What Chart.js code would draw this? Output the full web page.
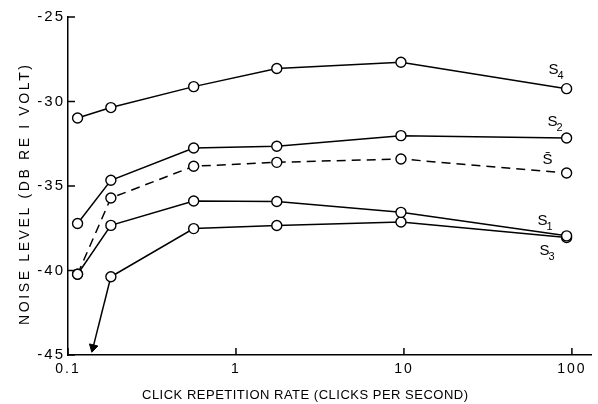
<!DOCTYPE html>
<html><head><meta charset="utf-8">
<script src="https://cdn.jsdelivr.net/npm/chart.js@4/dist/chart.umd.min.js"></script>
<style>html,body{margin:0;padding:0;background:#fff;}#wrap{width:598px;height:404px;position:relative;}</style>
</head><body><div id="wrap"><canvas id="c" width="598" height="404"></canvas></div>
<script>
// ---- data ----
const rates = [0.114, 0.18, 0.56, 1.75, 9.6, 93];
const s4 = [-30.98, -30.36, -29.12, -28.05, -27.68, -29.24];
const s2 = [-37.22, -34.66, -32.75, -32.65, -32.02, -32.16];
const sMean = [-40.22, -35.71, -33.83, -33.60, -33.40, -34.23];
const s1 = [-40.22, -37.33, -35.89, -35.92, -36.56, -37.95];
const s3 = [null, -40.37, -37.52, -37.34, -37.13, -38.05];
const s3ArrowX = [0.18, 0.141];
const s3ArrowY = [-40.37, -44.55];
const xTicks = [0.1, 1, 10, 100];
const xTickLabels = ['0.1', '1', '10', '100'];
const yTicks = [-25, -30, -35, -40, -45];
const yTickLabels = ['-25', '-30', '-35', '-40', '-45'];
const labelBase = ['S', 'S', 'S\u0304', 'S', 'S'];
const labelSub = ['4', '2', '', '1', '3'];
const xTitle = 'CLICK REPETITION RATE (CLICKS PER SECOND)';
const yTitle = 'NOISE LEVEL (DB RE I VOLT)';

function pts(xs, ys) { return xs.map((x, i) => ({ x: x, y: ys[i] })).filter(p => p.y !== null); }

const FONT = '"Liberation Sans", Arial, sans-serif';
const lineDs = (data, dash) => ({
  data: data, borderColor: '#000', borderWidth: 1.5, borderDash: dash || [],
  pointRadius: 5, pointBorderWidth: 1.4, pointBackgroundColor: '#fff', pointBorderColor: '#000',
  tension: 0, fill: false
});

const datasets = [
  lineDs(pts(rates, s4)),
  lineDs(pts(rates, s2)),
  lineDs(pts(rates, sMean), [9, 6]),
  lineDs(pts(rates, s1)),
  lineDs(pts(rates, s3)),
  {
    data: pts(s3ArrowX, s3ArrowY), borderColor: '#000', borderWidth: 1.5, tension: 0,
    pointRadius: [0, 5], pointStyle: 'triangle', pointRotation: 194,
    pointBackgroundColor: '#000', pointBorderColor: '#000', pointBorderWidth: 1
  }
];

// offsets of series name labels relative to each series' last point (pixels)
const labelOffsets = [[-13, -19], [-14, -16], [-19, -13], [-24, -15], [-22, 13]];

function drawSpaced(ctx, text, cx, cy, target, font) {
  ctx.font = font;
  ctx.letterSpacing = '0px';
  const w = ctx.measureText(text).width;
  const sp = (target - w) / (text.length - 1);
  ctx.letterSpacing = sp.toFixed(2) + 'px';
  ctx.textAlign = 'left';
  ctx.textBaseline = 'middle';
  ctx.fillText(text, cx - target / 2, cy);
  ctx.letterSpacing = '0px';
}

const decor = {
  id: 'decor',
  beforeDraw(chart) { chart.ctx.letterSpacing = '2px'; },
  afterDraw(chart) {
    const ctx = chart.ctx;
    const xs = chart.scales.x, ys = chart.scales.y;
    ctx.save();
    ctx.letterSpacing = '0px';
    ctx.strokeStyle = '#000';
    ctx.lineWidth = 1.5;
    // inward tick marks
    yTicks.forEach(v => {
      const py = ys.getPixelForValue(v);
      ctx.beginPath(); ctx.moveTo(xs.left, py); ctx.lineTo(xs.left + 7, py); ctx.stroke();
    });
    xTicks.forEach(v => {
      const px = xs.getPixelForValue(v);
      ctx.beginPath(); ctx.moveTo(px, ys.bottom); ctx.lineTo(px, ys.bottom - 7); ctx.stroke();
    });
    // series names
    ctx.fillStyle = '#000';
    for (let i = 0; i < 5; i++) {
      const meta = chart.getDatasetMeta(i);
      const last = meta.data[meta.data.length - 1];
      const lx = last.x + labelOffsets[i][0], ly = last.y + labelOffsets[i][1];
      ctx.font = '15px ' + FONT;
      ctx.textAlign = 'center'; ctx.textBaseline = 'middle';
      ctx.fillText(labelBase[i], lx, ly);
      if (labelSub[i]) {
        ctx.font = '11px ' + FONT;
        ctx.textAlign = 'left';
        ctx.fillText(labelSub[i], lx + 4, ly + 6);
      }
    }
    // axis titles
    drawSpaced(ctx, xTitle, 305, 395, 326, '13px ' + FONT);
    ctx.save();
    ctx.translate(25, 195);
    ctx.rotate(-Math.PI / 2);
    drawSpaced(ctx, yTitle, 0, 0, 260, '14px ' + FONT);
    ctx.restore();
    ctx.restore();
  }
};

new Chart(document.getElementById('c'), {
  type: 'line',
  data: { datasets: datasets },
  options: {
    responsive: false, animation: false, devicePixelRatio: 1,
    layout: { padding: { top: 17, right: 0, left: 0, bottom: 0 } },
    plugins: { legend: { display: false }, tooltip: { enabled: false } },
    scales: {
      x: {
        type: 'logarithmic', min: 0.1, max: 131,
        afterBuildTicks: s => { s.ticks = xTicks.map(v => ({ value: v })); },
        afterFit: s => { s.height = 49; },
        grid: { display: false, drawTicks: false, tickLength: 0 },
        border: { display: true, color: '#000', width: 1.5 },
        ticks: {
          autoSkip: false, maxRotation: 0, padding: 6, color: '#000',
          font: { family: FONT, size: 14 },
          callback: v => xTickLabels[xTicks.indexOf(v)]
        }
      },
      y: {
        type: 'linear', min: -45, max: -25,
        afterBuildTicks: s => { s.ticks = yTicks.map(v => ({ value: v })); },
        afterFit: s => { s.width = 68; },
        grid: { display: false, drawTicks: false, tickLength: 0 },
        border: { display: true, color: '#000', width: 1.5 },
        ticks: {
          padding: 3, color: '#000', font: { family: FONT, size: 15 },
          callback: v => yTickLabels[yTicks.indexOf(v)]
        }
      }
    }
  },
  plugins: [decor]
});
</script></body></html>
